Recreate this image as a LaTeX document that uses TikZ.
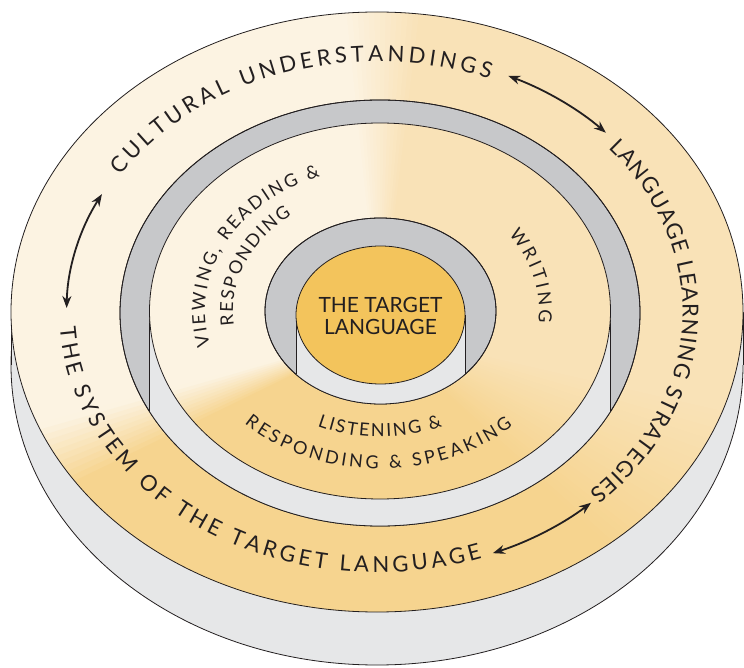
\documentclass[tikz,border=0pt]{standalone}
\usepackage{fontspec}
\setmainfont{Lato}
\usetikzlibrary{arrows.meta,decorations.text}

\definecolor{ink}{HTML}{231F20}
\definecolor{palec}{HTML}{FCF3E2}
\definecolor{tanc}{HTML}{F9E2B7}
\definecolor{goldc}{HTML}{F6D48F}
\definecolor{wellc}{HTML}{C7C8CA}
\definecolor{sidec}{HTML}{E6E7E8}
\definecolor{corec}{HTML}{F3C45C}

\newcommand\ringfont{\fontsize{22}{22}\selectfont}
\newcommand\bandfont{\fontsize{18}{18}\selectfont}

% thin coloured wedges round (g), the caller clips them
\newcommand\wedges{%
  \foreach \a in {0,1,...,359} {
    \pgfmathsetmacro\wp{max(0,min(100,(\a-82)*7.2,(206-\a)*9))}
    \pgfmathsetmacro\wt{max(0,min(100,max((140-\a)*10,(\a-316)*3.2)))}
    \colorlet{mixc}{tanc!\wt!goldc}
    \fill[palec!\wp!mixc] (g) -- +(\a:900) -- +(\a+1.6:900) -- cycle;
  }}

\begin{document}
\begin{tikzpicture}[x=1pt,y=1pt,line width=0.8pt,
  rim/.style={draw=ink},
  link/.style={{Stealth[length=12pt,width=9pt]}-{Stealth[length=12pt,width=9pt]},line width=1.8pt,draw=ink},
  ringtext/.style={decorate,decoration={text along path,text color=ink,text align={fit to path},text={|\ringfont|#1}}},
  bandtext/.style={decorate,decoration={text along path,text color=ink,text align={fit to path},text={|\bandfont|#1}}}]
\useasboundingbox (0,0) rectangle (744,667);

\coordinate (ring) at (377,355);
\coordinate (base) at (377,302);
\coordinate (well) at (380,354);
\coordinate (mid) at (380,356);
\coordinate (pit) at (380.5,356);
\coordinate (core) at (380.5,352);
\coordinate (g) at (380,335);

% outer disc
\filldraw[fill=sidec,rim] (base) ellipse (366 and 300);
\fill[sidec] (11,302) rectangle (743,355);
\draw[ink] (11,302) -- (11,355) (743,302) -- (743,355);
\begin{scope}
\clip (ring) ellipse (366 and 300);
\wedges
\end{scope}
\draw[rim] (ring) ellipse (366 and 300);

% well and middle platform
\filldraw[fill=wellc,rim] (well) ellipse (260 and 213);
\begin{scope}
\clip (well) ellipse (260 and 213);
\fill[sidec] (149.5,0) rectangle (610.5,356);
\end{scope}
\draw[ink] (149.5,356) -- (149.5,255.4) (610.5,356) -- (610.5,255.4);
\draw[rim] (well) ellipse (260 and 213);
\begin{scope}
\clip (mid) ellipse (230.5 and 188);
\wedges
\end{scope}
\draw[rim] (mid) ellipse (230.5 and 188);

% inner pit and core
\filldraw[fill=wellc,rim] (pit) ellipse (115.5 and 93);
\begin{scope}
\clip (pit) ellipse (115.5 and 93);
\fill[sidec] (296,0) rectangle (465,352);
\end{scope}
\draw[ink] (296,352) -- (296,292.6) (465,352) -- (465,292.6);
\draw[rim] (pit) ellipse (115.5 and 93);
\filldraw[fill=corec,rim] (core) ellipse (84.5 and 69);
\node[font=\fontsize{21}{22}\selectfont,text=ink,align=center] (target) at (380.5,351) {THE TARGET\\LANGUAGE};

% ring texts
\path[ringtext={CULTURAL UNDERSTANDINGS}] (ring) ++(147:305.6 and 250.5)
  arc[start angle=147,end angle=68.4,x radius=305.6,y radius=250.5];
\path[ringtext={LANGUAGE LEARNING STRATEGIES}] (ring) ++(40.8:305.6 and 250.5)
  arc[start angle=40.8,end angle=-45.9,x radius=305.6,y radius=250.5];
\path[ringtext={THE SYSTEM OF THE TARGET LANGUAGE}] (ring) ++(183.5:317.7 and 260.4)
  arc[start angle=183.5,end angle=289.3,x radius=317.7,y radius=260.4];

% platform texts
\path[bandtext={VIEWING, READING {\&}}] (mid) ++(194:175 and 143)
  arc[start angle=194,end angle=110,x radius=175,y radius=143];
\path[bandtext={RESPONDING}] (mid) ++(187:147 and 120)
  arc[start angle=187,end angle=127,x radius=147,y radius=120];
\path[bandtext={WRITING}] (mid) ++(36:159 and 130)
  arc[start angle=36,end angle=-5,x radius=159,y radius=130];
\path[bandtext={LISTENING {\&}}] (mid) ++(246:154 and 126)
  arc[start angle=246,end angle=294,x radius=154,y radius=126];
\path[bandtext={RESPONDING {\&} SPEAKING}] (mid) ++(225.4:193 and 158)
  arc[start angle=225.4,end angle=313.4,x radius=193,y radius=158];

% arrows
\path (ring) ++(152.4:310.4 and 254.4) coordinate (leftA);
\path (ring) ++(65.5:316.6 and 259.5) coordinate (topA);
\path (ring) ++(-68.5:316.2 and 259.2) coordinate (lowA);
\draw[link] (leftA) arc[start angle=152.4,end angle=179.1,x radius=310.4,y radius=254.4];
\draw[link] (topA) arc[start angle=65.5,end angle=43.7,x radius=316.6,y radius=259.5];
\draw[link] (lowA) arc[start angle=-68.5,end angle=-47.4,x radius=316.2,y radius=259.2];
\end{tikzpicture}
\end{document}
